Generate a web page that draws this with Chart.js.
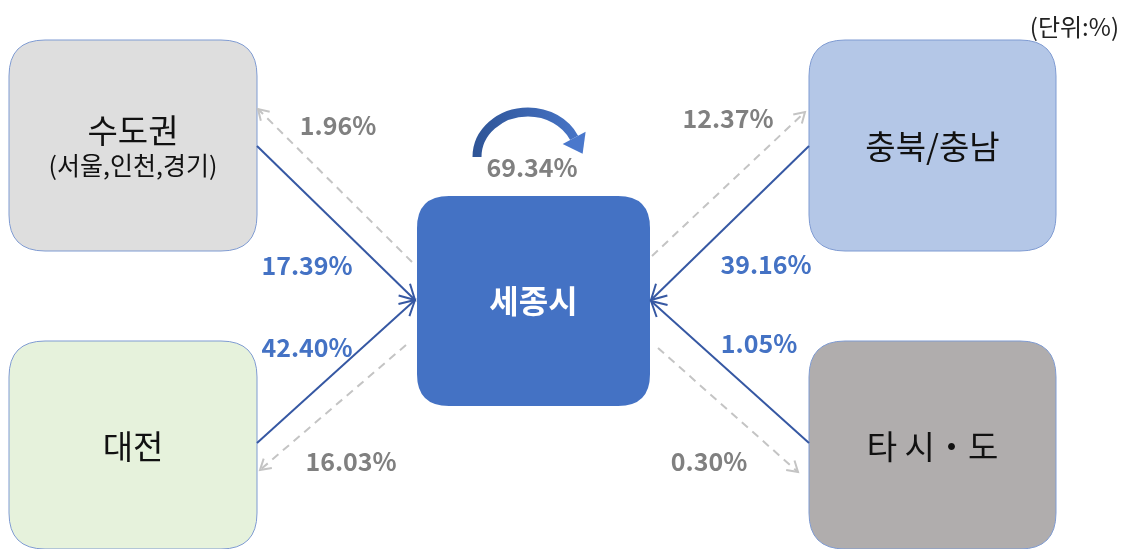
<!DOCTYPE html>
<html>
<head>
<meta charset="utf-8">
<script src="https://cdn.jsdelivr.net/npm/chart.js@4.4.1/dist/chart.umd.min.js"></script>
<style>
  body { margin: 0; background: #fff; }
  canvas { display: block; }
</style>
</head>
<body>
<canvas id="flowChart" width="1128" height="549"></canvas>
<script>
// data
const regions = ["수도권", "대전", "충북/충남", "타 시・도"];
const regionSub = ["(서울,인천,경기)", "", "", ""];
const hub = "세종시";
const inflow = [17.39, 42.40, 39.16, 1.05];   // region -> 세종시 (solid)
const outflow = [1.96, 16.03, 12.37, 0.30];   // 세종시 -> region (dashed)
const withinHub = 69.34;
const unitText = "(단위:%)";

// layout, in the 1128 x 549 value space of the hidden axes
const boxRects = [[9, 40, 257, 251], [9, 341, 257, 549], [809, 40, 1056, 251], [809, 341, 1056, 549]];
const boxFills = ["#dedede", "#e6f2dc", "#b4c7e7", "#b0adad"];
const hubRect = [417, 196, 650, 406];
const inPaths = [[[257, 146], [415, 300]], [[257, 443], [415, 300]], [[809, 146], [651, 300]], [[809, 443], [651, 301]]];
const outPaths = [[[412, 262], [258, 109]], [[406, 345], [260, 470]], [[652, 256], [805, 112]], [[658, 348], [798, 472]]];
const inLabelPos = [[307, 265], [307, 347], [766, 264], [759, 343]];
const outLabelPos = [[338, 125], [351, 461], [728, 118], [709, 461]];

const BLUE = "#4472c4";
const LINE_BLUE = "#3658a3";
const GRAY_TXT = "#808080";
const GRAY_LINE = "#c4c4c4";
const KFONT = '"Noto Sans CJK KR", "Noto Sans", sans-serif';

let datasets = [];
inPaths.forEach((p, i) => {
    datasets.push({
        label: regions[i] + " → " + hub,
        data: p.map(q => ({x: q[0], y: q[1]})),
        showLine: true, pointRadius: 0, borderWidth: 2,
        borderColor: LINE_BLUE
    });
});
outPaths.forEach((p, i) => {
    datasets.push({
        label: hub + " → " + regions[i],
        data: p.map(q => ({x: q[0], y: q[1]})),
        showLine: true, pointRadius: 0, borderWidth: 2,
        borderColor: GRAY_LINE, borderDash: [8, 6]
    });
});

function roundBox(ctx, x1, y1, x2, y2, r) {
    ctx.beginPath();
    ctx.moveTo(x1 + r, y1);
    ctx.lineTo(x2 - r, y1);
    ctx.quadraticCurveTo(x2, y1, x2, y1 + r);
    ctx.lineTo(x2, y2 - r);
    ctx.quadraticCurveTo(x2, y2, x2 - r, y2);
    ctx.lineTo(x1 + r, y2);
    ctx.quadraticCurveTo(x1, y2, x1, y2 - r);
    ctx.lineTo(x1, y1 + r);
    ctx.quadraticCurveTo(x1, y1, x1 + r, y1);
    ctx.closePath();
}

function openHead(ctx, from, tip, len, ang, color, w) {
    const a = Math.atan2(tip[1] - from[1], tip[0] - from[0]);
    ctx.save();
    ctx.strokeStyle = color;
    ctx.lineWidth = w;
    ctx.setLineDash([]);
    ctx.beginPath();
    ctx.moveTo(tip[0] - len * Math.cos(a - ang), tip[1] - len * Math.sin(a - ang));
    ctx.lineTo(tip[0], tip[1]);
    ctx.lineTo(tip[0] - len * Math.cos(a + ang), tip[1] - len * Math.sin(a + ang));
    ctx.stroke();
    ctx.restore();
}

const flowDecor = {
    id: "flowDecor",
    beforeDatasetsDraw(chart) {
        const ctx = chart.ctx;
        const xs = chart.scales.x, ys = chart.scales.y;
        const px = v => xs.getPixelForValue(v), py = v => ys.getPixelForValue(v);
        ctx.save();
        boxRects.forEach((r, i) => {
            roundBox(ctx, px(r[0]), py(r[1]), px(r[2]), py(r[3]), 36);
            ctx.fillStyle = boxFills[i];
            ctx.fill();
            ctx.strokeStyle = "#7f9bd2";
            ctx.lineWidth = 1;
            ctx.stroke();
        });
        roundBox(ctx, px(hubRect[0]), py(hubRect[1]), px(hubRect[2]), py(hubRect[3]), 32);
        ctx.fillStyle = BLUE;
        ctx.fill();
        ctx.restore();
    },
    afterDatasetsDraw(chart) {
        const ctx = chart.ctx;
        const xs = chart.scales.x, ys = chart.scales.y;
        const px = v => xs.getPixelForValue(v), py = v => ys.getPixelForValue(v);
        const P = q => [px(q[0]), py(q[1])];
        ctx.save();

        // arrow heads
        inPaths.forEach(p => openHead(ctx, P(p[0]), P(p[1]), 17, 0.5, LINE_BLUE, 2));
        outPaths.forEach(p => openHead(ctx, P(p[0]), P(p[1]), 12, 0.55, GRAY_LINE, 2));

        // box labels
        ctx.textAlign = "center";
        ctx.textBaseline = "middle";
        ctx.fillStyle = "#111";
        boxRects.forEach((r, i) => {
            const cx = (px(r[0]) + px(r[2])) / 2;
            const cy = (py(r[1]) + py(r[3])) / 2;
            if (regionSub[i]) {
                ctx.font = "33px " + KFONT;
                ctx.fillText(regions[i], cx, cy - 15);
                ctx.font = "25px " + KFONT;
                ctx.fillText(regionSub[i], cx, cy + 20);
            } else {
                ctx.font = "33px " + KFONT;
                ctx.fillText(regions[i], cx, cy + 1);
            }
        });
        ctx.fillStyle = "#fff";
        ctx.font = "bold 32px " + KFONT;
        ctx.fillText(hub, px((hubRect[0] + hubRect[2]) / 2), py((hubRect[1] + hubRect[3]) / 2));

        // percentages
        ctx.font = "bold 25px " + KFONT;
        inflow.forEach((v, i) => {
            ctx.fillStyle = BLUE;
            ctx.fillText(v.toFixed(2) + "%", px(inLabelPos[i][0]), py(inLabelPos[i][1]));
        });
        outflow.forEach((v, i) => {
            ctx.fillStyle = GRAY_TXT;
            ctx.fillText(v.toFixed(2) + "%", px(outLabelPos[i][0]), py(outLabelPos[i][1]));
        });
        ctx.fillStyle = GRAY_TXT;
        ctx.fillText(withinHub.toFixed(2) + "%", px(532), py(167));

        // curved arrow above the hub
        const cx = px(528), cy = py(157), rx = 51, ry = 45;
        const a1 = Math.PI * 1.86;
        const grad = ctx.createLinearGradient(px(472), 0, px(592), 0);
        grad.addColorStop(0, "#2e5496");
        grad.addColorStop(1, "#4a78cc");
        ctx.strokeStyle = grad;
        ctx.lineWidth = 9;
        ctx.beginPath();
        ctx.ellipse(cx, cy, rx, ry, 0, Math.PI, a1);
        ctx.stroke();
        const ex = cx + rx * Math.cos(a1), ey = cy + ry * Math.sin(a1);
        let tx = -rx * Math.sin(a1), ty = ry * Math.cos(a1);
        const tl = Math.hypot(tx, ty); tx /= tl; ty /= tl;
        ctx.fillStyle = "#4a78cc";
        ctx.beginPath();
        ctx.moveTo(ex - ty * 13, ey + tx * 13);
        ctx.lineTo(ex + ty * 13, ey - tx * 13);
        ctx.lineTo(ex + tx * 18, ey + ty * 18);
        ctx.closePath();
        ctx.fill();

        // unit
        ctx.fillStyle = "#222";
        ctx.font = "24px " + KFONT;
        ctx.textAlign = "right";
        ctx.fillText(unitText, px(1119), py(27));
        ctx.restore();
    }
};

new Chart(document.getElementById("flowChart"), {
    type: "scatter",
    data: { datasets: datasets },
    options: {
        responsive: false,
        animation: false,
        layout: { padding: 0 },
        plugins: { legend: { display: false }, tooltip: { enabled: false } },
        scales: {
            x: { type: "linear", min: 0, max: 1128, display: false },
            y: { type: "linear", min: 0, max: 549, reverse: true, display: false }
        }
    },
    plugins: [flowDecor]
});
</script>
</body>
</html>
